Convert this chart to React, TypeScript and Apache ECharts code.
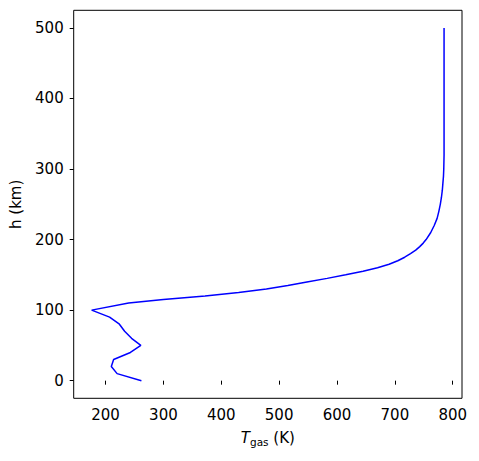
import React, { useEffect, useRef } from "react";
import * as echarts from "echarts";

const heights = [0, 10, 20, 30, 40, 50, 60, 70, 80, 90, 100, 110, 115, 120, 125, 130, 135, 140, 145, 150, 155, 160, 165, 170, 175, 180, 185, 190, 195, 200, 210, 220, 230, 240, 250, 260, 270, 280, 290, 300, 320, 350, 400, 450, 500];
const temps = [262, 220, 210, 214, 243, 261, 245, 233, 224, 207, 176, 240, 300, 372, 430, 478, 515, 548, 583, 615, 645, 670, 690, 705, 717, 727, 736, 743, 749, 754, 762, 768, 773, 776, 778.5, 780.5, 782, 783, 784, 784.5, 785, 785, 785, 785, 785];
const xTicks = [200, 300, 400, 500, 600, 700, 800];
const yTicks = [0, 100, 200, 300, 400, 500];

const FONT = "DejaVu Sans";
const FS = 15;

export default function App() {
  const ref = useRef<HTMLDivElement>(null);
  useEffect(() => {
    document.body.style.margin = "0";
    const chart = echarts.init(ref.current!, null, { renderer: "svg" });
    const data = heights.map((h, i) => [temps[i], h]);
    chart.setOption({
      animation: false,
      grid: {
        left: 73.7,
        right: 17,
        top: 10.3,
        bottom: 62.7,
        show: true,
        borderColor: "#000",
        borderWidth: 1,
        backgroundColor: "#fff",
      },
      xAxis: {
        type: "value",
        min: 145,
        max: 816,
        splitLine: { show: false },
        axisLine: { show: false },
        axisTick: { show: true, inside: false, length: 4, lineStyle: { color: "#000", width: 1 }, customValues: xTicks },
        axisLabel: { customValues: xTicks, color: "#000", fontFamily: FONT, fontSize: FS, margin: 9 },
        name: "{t|T}{s|gas}{n| (K)}",
        nameLocation: "middle",
        nameGap: 31,
        nameTextStyle: {
          color: "#000",
          fontFamily: FONT,
          fontSize: FS,
          rich: {
            t: { fontFamily: FONT, fontSize: FS, fontStyle: "italic", color: "#000", lineHeight: 18 },
            s: { fontFamily: FONT, fontSize: 10.5, color: "#000", lineHeight: 10, verticalAlign: "bottom" },
            n: { fontFamily: FONT, fontSize: FS, color: "#000", lineHeight: 18 },
          },
        },
      },
      yAxis: {
        type: "value",
        min: -25,
        max: 525,
        splitLine: { show: false },
        axisLine: { show: false },
        axisTick: { show: true, inside: false, length: 4, lineStyle: { color: "#000", width: 1 }, customValues: yTicks },
        axisLabel: { customValues: yTicks, color: "#000", fontFamily: FONT, fontSize: FS, margin: 10 },
        name: "h (km)",
        nameLocation: "middle",
        nameGap: 50,
        nameRotate: 90,
        nameTextStyle: { color: "#000", fontFamily: FONT, fontSize: FS },
      },
      series: [
        {
          type: "line",
          data,
          showSymbol: false,
          symbol: "none",
          lineStyle: { color: "#0000ff", width: 1.5 },
          silent: true,
        },
      ],
    });
    return () => chart.dispose();
  }, []);
  return <div ref={ref} style={{ width: 479, height: 461 }} />;
}
